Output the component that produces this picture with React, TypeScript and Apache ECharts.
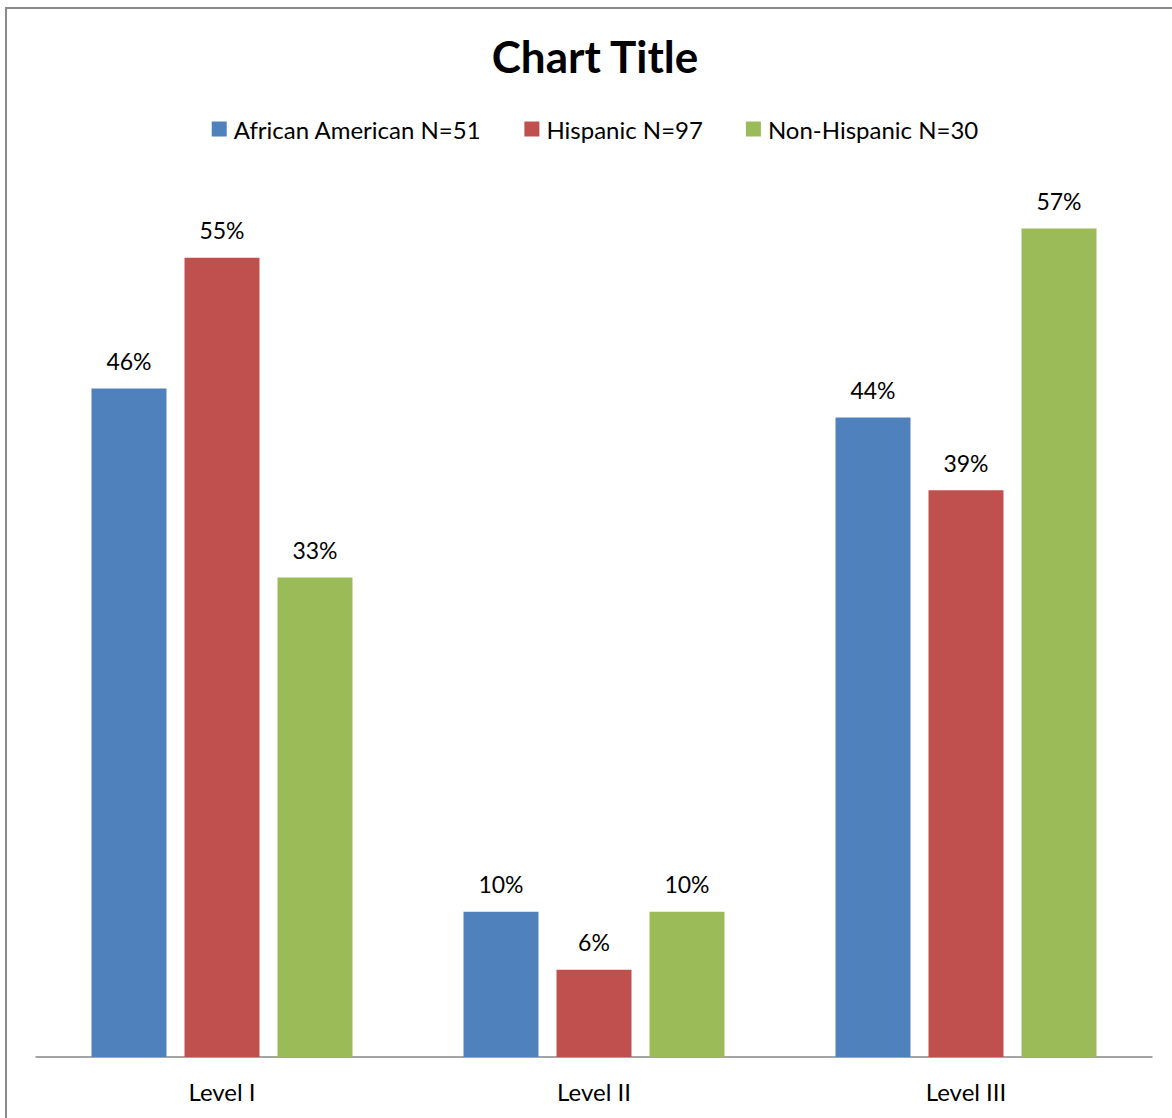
import React, { useEffect, useRef } from "react";
import * as echarts from "echarts";

const categories = ["Level I", "Level II", "Level III"];
const seriesNames = ["African American N=51", "Hispanic N=97", "Non-Hispanic N=30"];
const africanAmerican = [46, 10, 44];
const hispanic = [55, 6, 39];
const nonHispanic = [33, 10, 57];
const colors = ["#4F81BD", "#C0504D", "#9BBB59"];

const FONT = "Lato, 'Liberation Sans', sans-serif";

export default function App() {
  const ref = useRef<HTMLDivElement>(null);
  useEffect(() => {
    if (!ref.current) return;
    const chart = echarts.init(ref.current, null, { renderer: "svg" });
    const values = [africanAmerican, hispanic, nonHispanic];
    chart.setOption({
      animation: false,
      textStyle: { fontFamily: FONT },
      title: {
        text: "Chart Title",
        left: "center",
        top: 20,
        textStyle: { fontFamily: FONT, fontSize: 44, fontWeight: "bold", color: "#000" },
      },
      legend: {
        data: seriesNames,
        top: 103,
        left: "center",
        icon: "rect",
        itemWidth: 15,
        itemHeight: 15,
        itemGap: 43,
        textStyle: { fontFamily: FONT, fontSize: 24, color: "#000", padding: [0, 0, 0, 2] },
      },
      grid: { left: 29, width: 1116, top: 176, height: 872, containLabel: false },
      xAxis: {
        type: "category",
        data: categories,
        axisLine: { lineStyle: { color: "#868686", width: 1.5 } },
        axisTick: { show: false },
        axisLabel: { fontFamily: FONT, fontSize: 24, color: "#000", margin: 22 },
      },
      yAxis: {
        type: "value",
        min: 0,
        max: 60,
        show: false,
        splitLine: { show: false },
      },
      series: seriesNames.map((name, i) => ({
        name,
        type: "bar",
        data: values[i],
        barWidth: 75,
        barGap: "24%",
        itemStyle: { color: colors[i] },
        label: {
          show: true,
          position: "top",
          distance: 16,
          formatter: "{c}%",
          fontFamily: FONT,
          fontSize: 23,
          color: "#000",
        },
      })),
    });
    return () => chart.dispose();
  }, []);
  return (
    <div
      style={{
        position: "absolute",
        left: 5,
        top: 7,
        width: 1180,
        height: 1120,
        border: "2px solid #8a8a8a",
        background: "#fff",
        boxSizing: "border-box",
      }}
    >
      <div ref={ref} style={{ width: 1176, height: 1116 }} />
    </div>
  );
}
